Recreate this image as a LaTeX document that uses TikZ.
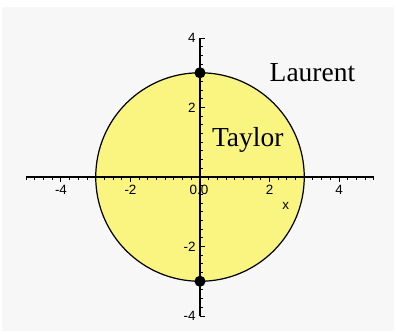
\documentclass[tikz,border=0pt]{standalone}
\usepackage{fontspec}
\setmainfont{Liberation Serif}
\setsansfont{Liberation Sans}
\usetikzlibrary{calc}
\definecolor{bggray}{RGB}{247,247,247}
\definecolor{discyel}{RGB}{249,245,128}
\tikzset{every node/.style={font=\small},axisline/.style={line width=1.3pt},tk/.style={line width=.8pt},
 numlbl/.style={font=\sffamily\fontsize{11}{12}\selectfont,inner sep=0pt},
 pole/.style={circle,fill=black,inner sep=0pt,minimum size=.32cm},
 seriesname/.style={font=\fontsize{22.5}{24}\selectfont,inner sep=0pt,anchor=base west}}

\begin{document}
\begin{tikzpicture}
\useasboundingbox (-5.755,-4.489) rectangle (5.640,5.094);
\fill[bggray] (-5.698,-4.432) rectangle (5.583,4.892);
\filldraw[fill=discyel,draw=black,line width=1pt] (0,0) circle(3);
\coordinate (xl) at (-5,0);\coordinate (xr) at (5,0);
\coordinate (yb) at (0,-4);\coordinate (yt) at (0,4);
\draw[axisline] (xl)--(xr);\draw[axisline] (yb)--(yt);
\foreach \t in {-5,-4.75,...,5.01}{\draw[tk] (\t,0)--(\t,-.08);}
\foreach \t in {-4,-2,2,4}{\draw[tk] (\t,0)--(\t,-.14);\draw[tk] (0,\t)--(.14,\t);}
\foreach \t in {-4,-3.75,...,4.01}{\draw[tk] (0,\t)--(.08,\t);}
\foreach \t in {-4,-2,2,4}{\node[numlbl] (xn\t) at (\t,-.37){\t};
 \node[numlbl,anchor=east] (yn\t) at (-.12,\t){\t};}
\node[numlbl] (orig) at (-.03,-.37){0.0};
\node[numlbl] (xlbl) at (2.47,-.83){x};
\node[pole] (top) at (0,3){};\node[pole] (bot) at (0,-3){};
\node[seriesname] (laur) at (2.0,2.74){Laurent};
\node[seriesname] (tay) at (.34,.87){Taylor};
\end{tikzpicture}
\end{document}
